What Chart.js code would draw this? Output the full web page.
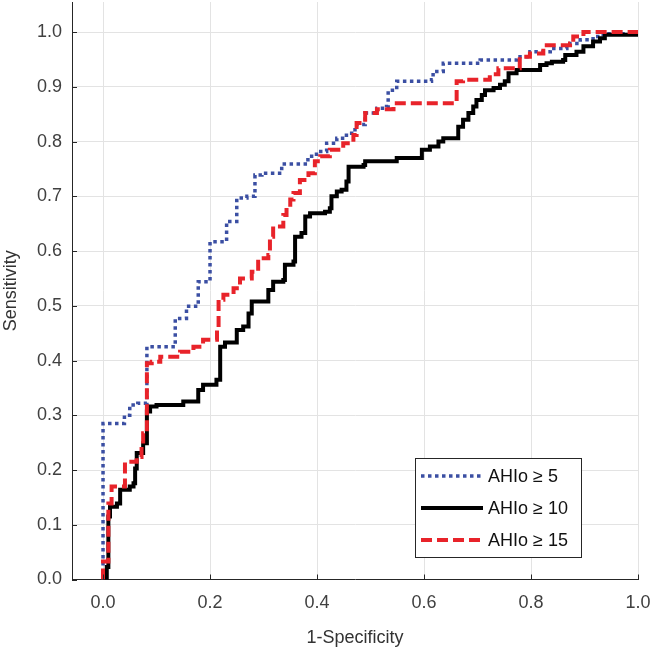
<!DOCTYPE html>
<html>
<head>
<meta charset="utf-8">
<script src="https://cdn.jsdelivr.net/npm/chart.js@4/dist/chart.umd.min.js"></script>
<style>
  body { margin: 0; background: #fff; }
  #wrap { width: 651px; height: 654px; }
</style>
</head>
<body>
<div id="wrap"><canvas id="rocChart" width="651" height="654"></canvas></div>
<script>
// Дані кривих ROC (1-специфічність, чутливість)
const seriesLabels = ['AHIo \u2265 5', 'AHIo \u2265 10', 'AHIo \u2265 15'];

const fpr5 = [0, 0, 0.026, 0.04, 0.05, 0.065, 0.082, 0.082, 0.135, 0.135, 0.156, 0.178, 0.178, 0.2, 0.2,
    0.231, 0.231, 0.25, 0.25, 0.269, 0.284, 0.284, 0.297, 0.327, 0.334, 0.368, 0.383, 0.399, 0.418,
    0.437, 0.455, 0.471, 0.49, 0.512, 0.53, 0.533, 0.549, 0.614, 0.617, 0.636, 0.692, 0.705, 0.773,
    0.798, 0.836, 0.867, 0.892, 0.916, 0.935, 1.0];
const tpr5 = [0, 0.285, 0.285, 0.30, 0.319, 0.322, 0.328, 0.425, 0.429, 0.477, 0.499, 0.502, 0.544, 0.544, 0.617,
    0.626, 0.654, 0.666, 0.697, 0.7, 0.709, 0.739, 0.742, 0.742, 0.759, 0.759, 0.773, 0.782, 0.797,
    0.806, 0.815, 0.831, 0.852, 0.861, 0.864, 0.894, 0.91, 0.913, 0.928, 0.943, 0.943, 0.949, 0.955,
    0.964, 0.97, 0.979, 0.986, 0.992, 0.997, 0.997];

const fpr10 = [0, 0.007, 0.01, 0.013, 0.026, 0.032, 0.05, 0.057, 0.06, 0.063, 0.075, 0.075, 0.082, 0.088, 0.1,
    0.147, 0.15, 0.178, 0.178, 0.187, 0.212, 0.219, 0.228, 0.244, 0.25, 0.262, 0.272, 0.278, 0.306,
    0.309, 0.318, 0.337, 0.34, 0.356, 0.359, 0.371, 0.378, 0.387, 0.415, 0.424, 0.427, 0.437, 0.446,
    0.455, 0.459, 0.487, 0.49, 0.546, 0.549, 0.586, 0.596, 0.611, 0.627, 0.636, 0.658, 0.664, 0.673,
    0.683, 0.692, 0.698, 0.708, 0.714, 0.73, 0.742, 0.751, 0.758, 0.773, 0.81, 0.817, 0.829, 0.839,
    0.86, 0.864, 0.885, 0.898, 0.916, 0.929, 0.938, 1.0];
const tpr10 = [0, 0.023, 0.115, 0.133, 0.139, 0.164, 0.17, 0.176, 0.203, 0.231, 0.234, 0.249, 0.307, 0.316, 0.319,
    0.319, 0.325, 0.328, 0.346, 0.356, 0.365, 0.425, 0.433, 0.433, 0.456, 0.462, 0.486, 0.508, 0.508,
    0.529, 0.544, 0.547, 0.575, 0.581, 0.626, 0.633, 0.663, 0.669, 0.672, 0.678, 0.7, 0.709, 0.712,
    0.727, 0.754, 0.757, 0.764, 0.764, 0.77, 0.77, 0.785, 0.791, 0.8, 0.806, 0.806, 0.827, 0.84,
    0.852, 0.864, 0.876, 0.885, 0.894, 0.898, 0.904, 0.91, 0.925, 0.931, 0.931, 0.94, 0.943, 0.946,
    0.949, 0.958, 0.964, 0.974, 0.983, 0.989, 0.995, 0.995];

const fpr15 = [0, 0, 0.007, 0.01, 0.016, 0.041, 0.041, 0.063, 0.072, 0.075, 0.082, 0.091, 0.107, 0.131, 0.144,
    0.169, 0.187, 0.213, 0.216, 0.225, 0.244, 0.256, 0.278, 0.29, 0.309, 0.312, 0.318, 0.337, 0.343,
    0.35, 0.356, 0.368, 0.384, 0.396, 0.406, 0.424, 0.449, 0.468, 0.474, 0.49, 0.512, 0.543, 0.543,
    0.661, 0.661, 0.673, 0.717, 0.723, 0.739, 0.773, 0.779, 0.798, 0.823, 0.873, 0.879, 0.898, 1.0];
const tpr15 = [0, 0.033, 0.033, 0.139, 0.17, 0.17, 0.215, 0.224, 0.243, 0.267, 0.395, 0.398, 0.407, 0.407, 0.416,
    0.425, 0.438, 0.456, 0.511, 0.52, 0.532, 0.55, 0.562, 0.587, 0.593, 0.626, 0.645, 0.666, 0.675,
    0.694, 0.706, 0.73, 0.742, 0.764, 0.773, 0.785, 0.797, 0.812, 0.834, 0.852, 0.859, 0.859, 0.87,
    0.87, 0.91, 0.913, 0.913, 0.923, 0.934, 0.934, 0.955, 0.961, 0.976, 0.979, 0.992, 1.0, 1.0];

const xTickValues = [0, 0.2, 0.4, 0.6, 0.8, 1.0];
const yTickValues = [0, 0.1, 0.2, 0.3, 0.4, 0.5, 0.6, 0.7, 0.8, 0.9, 1.0];

function toPoints(xs, ys) {
    return xs.map((x, i) => ({ x: x, y: ys[i] }));
}

const axisColor = '#262626';
const tickFont = { family: 'Liberation Sans, Arial, sans-serif', size: 18 };

// Вписана легенда в правому нижньому куті, як у MATLAB
const insideLegend = {
    id: 'insideLegend',
    afterDraw(chart) {
        const ctx = chart.ctx;
        const box = { left: 415, top: 458, right: 582, bottom: 558 };
        ctx.save();
        ctx.fillStyle = '#fff';
        ctx.fillRect(box.left, box.top, box.right - box.left, box.bottom - box.top);
        ctx.strokeStyle = axisColor;
        ctx.lineWidth = 1;
        ctx.strokeRect(box.left + 0.5, box.top + 0.5, box.right - box.left - 1, box.bottom - box.top - 1);
        chart.data.datasets.forEach((ds, i) => {
            const y = box.top + 18 + i * 32;
            ctx.strokeStyle = ds.borderColor;
            ctx.lineWidth = ds.borderWidth;
            ctx.setLineDash(ds.borderDash || []);
            ctx.beginPath();
            ctx.moveTo(box.left + 6, y);
            ctx.lineTo(box.left + 68, y);
            ctx.stroke();
            ctx.setLineDash([]);
            ctx.fillStyle = '#111';
            ctx.font = '18px Liberation Sans, Arial, sans-serif';
            ctx.textAlign = 'left';
            ctx.textBaseline = 'middle';
            ctx.fillText(ds.label, box.left + 73, y + 1);
        });
        ctx.restore();
    }
};

// Короткі риски всередину області графіка
const innerTicks = {
    id: 'innerTicks',
    afterDatasetsDraw(chart) {
        const ctx = chart.ctx;
        const xs = chart.scales.x, ys = chart.scales.y;
        const area = chart.chartArea;
        ctx.save();
        ctx.strokeStyle = axisColor;
        ctx.lineWidth = 1;
        ctx.beginPath();
        xs.ticks.forEach(t => {
            const px = Math.round(xs.getPixelForValue(t.value)) + 0.5;
            ctx.moveTo(px, area.bottom);
            ctx.lineTo(px, area.bottom - 5);
        });
        ys.ticks.forEach(t => {
            const py = Math.round(ys.getPixelForValue(t.value)) + 0.5;
            ctx.moveTo(area.left, py);
            ctx.lineTo(area.left + 5, py);
        });
        ctx.stroke();
        ctx.restore();
    }
};

const ctx = document.getElementById('rocChart').getContext('2d');

const chart = new Chart(ctx, {
    type: 'line',
    data: {
        datasets: [
            {
                label: seriesLabels[0],
                data: toPoints(fpr5, tpr5),
                borderColor: '#3b4fa3',
                borderWidth: 3.5,
                borderDash: [3.5, 3.5],
                stepped: true,
                pointRadius: 0,
                fill: false,
                order: 3
            },
            {
                label: seriesLabels[1],
                data: toPoints(fpr10, tpr10),
                borderColor: '#000000',
                borderWidth: 4,
                stepped: true,
                pointRadius: 0,
                fill: false,
                order: 2
            },
            {
                label: seriesLabels[2],
                data: toPoints(fpr15, tpr15),
                borderColor: '#e8232a',
                borderWidth: 4,
                borderDash: [11, 5],
                stepped: true,
                pointRadius: 0,
                fill: false,
                order: 1
            }
        ]
    },
    options: {
        responsive: false,
        animation: false,
        devicePixelRatio: 1,
        layout: { padding: { top: 2, right: 13, bottom: 0, left: 0 } },
        plugins: {
            legend: { display: false },
            tooltip: { enabled: false }
        },
        scales: {
            x: {
                type: 'linear',
                min: -0.058,
                max: 1.0,
                afterBuildTicks: scale => {
                    scale.ticks = xTickValues.map(v => ({ value: v }));
                },
                afterFit: scale => {
                    scale.height = 74.5;
                    scale.paddingLeft = 0;
                    scale.paddingRight = 0;
                },
                grid: { color: '#e3e3e3', lineWidth: 1, drawTicks: false },
                border: { color: axisColor, width: 1 },
                ticks: {
                    font: tickFont,
                    color: '#404040',
                    padding: 13,
                    maxRotation: 0,
                    callback: v => v.toFixed(1)
                },
                title: {
                    display: true,
                    text: '1-Specificity',
                    font: tickFont,
                    color: '#333333',
                    padding: { top: 0, bottom: 5 }
                }
            },
            y: {
                type: 'linear',
                min: 0,
                max: 1.055,
                afterBuildTicks: scale => {
                    scale.ticks = yTickValues.map(v => ({ value: v }));
                },
                afterFit: scale => {
                    scale.width = 72;
                    scale.paddingTop = 0;
                    scale.paddingBottom = 0;
                },
                grid: { color: '#e3e3e3', lineWidth: 1, drawTicks: false },
                border: { color: axisColor, width: 1 },
                ticks: {
                    font: tickFont,
                    color: '#404040',
                    padding: 10,
                    callback: v => v.toFixed(1)
                },
                title: {
                    display: true,
                    text: 'Sensitivity',
                    font: tickFont,
                    color: '#333333',
                    padding: { top: 0, bottom: 0 }
                }
            }
        }
    },
    plugins: [innerTicks, insideLegend]
});
</script>
</body>
</html>
